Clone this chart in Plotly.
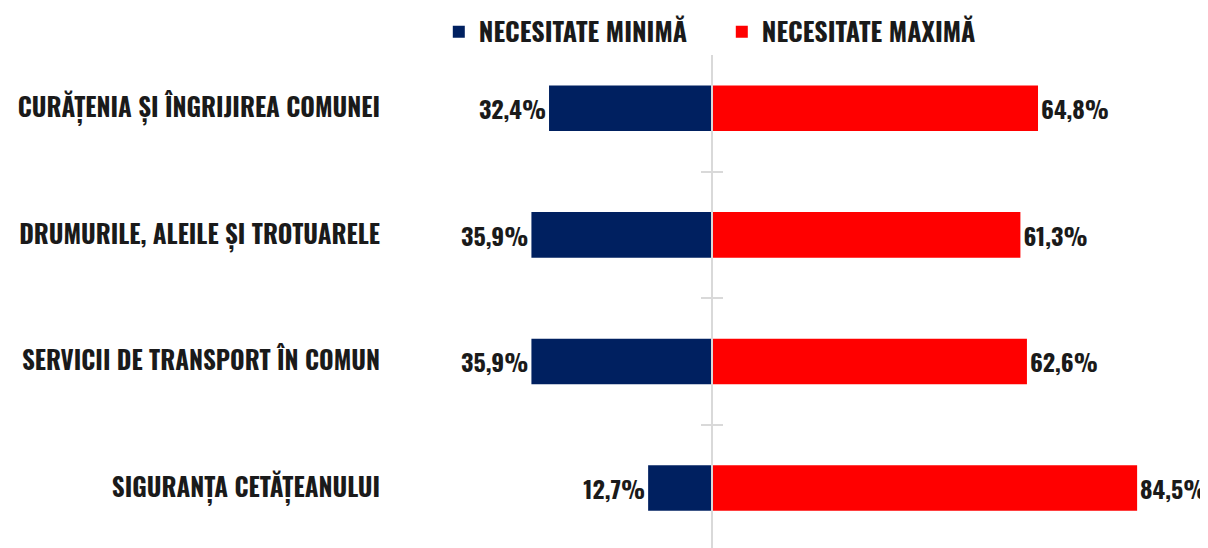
import plotly.graph_objects as go

categories = [
    "CURĂȚENIA ȘI ÎNGRIJIREA COMUNEI",
    "DRUMURILE, ALEILE ȘI TROTUARELE",
    "SERVICII DE TRANSPORT ÎN COMUN",
    "SIGURANȚA CETĂȚEANULUI",
]
minima = [32.4, 35.9, 35.9, 12.7]
maxima = [64.8, 61.3, 62.6, 84.5]
series_names = ["NECESITATE MINIMĂ", "NECESITATE MAXIMĂ"]

FONT = "Oswald, Bebas Neue, Roboto Condensed, sans-serif"
BLUE = "#002060"
RED = "#FF0000"
GRID = "#d9d9d9"
TXT = "#1a1a1a"

XMIN, XMAX = -65.8, 97
zero_frac = -XMIN / (XMAX - XMIN)

def fmt(v):
    return f"{v:.1f}%".replace(".", ",")

fig = go.Figure()
fig.add_trace(go.Bar(
    y=categories, x=[-v for v in minima], orientation="h",
    name=series_names[0], marker=dict(color=BLUE, line=dict(width=0)),
    text=[fmt(v) for v in minima], textposition="outside", constraintext="none",
    cliponaxis=False, width=0.36,
    textfont=dict(family=FONT, size=24, color=TXT, weight="bold"),
))
fig.add_trace(go.Bar(
    y=categories, x=maxima, orientation="h",
    name=series_names[1], marker=dict(color=RED, line=dict(width=0)),
    text=[fmt(v) for v in maxima], textposition="outside", constraintext="none",
    cliponaxis=False, width=0.36,
    textfont=dict(family=FONT, size=24, color=TXT, weight="bold"),
))
# helper traces so the centre axes (line + boundary ticks) are drawn
for ax in ["y2", "y3"]:
    fig.add_trace(go.Scatter(x=[0], y=[0], yaxis=ax, mode="markers",
                             marker=dict(opacity=0), showlegend=False, hoverinfo="skip"))

n = len(categories)
yrange = [n - 1 + 60 / 126.67, -0.5]
bounds = [i - 0.5 for i in range(n)]

fig.update_layout(
    width=1200, height=540,
    margin=dict(l=373, r=8, t=37, b=0, autoexpand=False),
    paper_bgcolor="white", plot_bgcolor="white",
    barmode="relative",
    separators=",.",
    showlegend=True,
    legend=dict(orientation="h", xref="container", yref="container",
                x=0.359, y=0.956, xanchor="left", yanchor="middle",
                font=dict(family=FONT, size=26, color=TXT, weight="bold"),
                itemwidth=30, entrywidth=238, entrywidthmode="pixels",
                traceorder="normal"),
    xaxis=dict(range=[XMIN, XMAX], showgrid=False, zeroline=False,
               showticklabels=False, ticks="", showline=False, fixedrange=True),
    yaxis=dict(range=yrange, showgrid=False, zeroline=False, ticks="",
               showline=False,
               tickfont=dict(family=FONT, size=25, color=TXT, weight="bold")),
    yaxis2=dict(overlaying="y", anchor="free", position=zero_frac, side="left",
                range=yrange, showline=True, linecolor=GRID, linewidth=2,
                tickmode="array", tickvals=bounds, ticks="outside", ticklen=10,
                tickcolor=GRID, tickwidth=1.5, showticklabels=False,
                showgrid=False, zeroline=False),
    yaxis3=dict(overlaying="y", anchor="free", position=zero_frac, side="right",
                range=yrange, showline=False,
                tickmode="array", tickvals=bounds, ticks="outside", ticklen=10,
                tickcolor=GRID, tickwidth=1.5, showticklabels=False,
                showgrid=False, zeroline=False),
)

fig.write_html("out.html")
